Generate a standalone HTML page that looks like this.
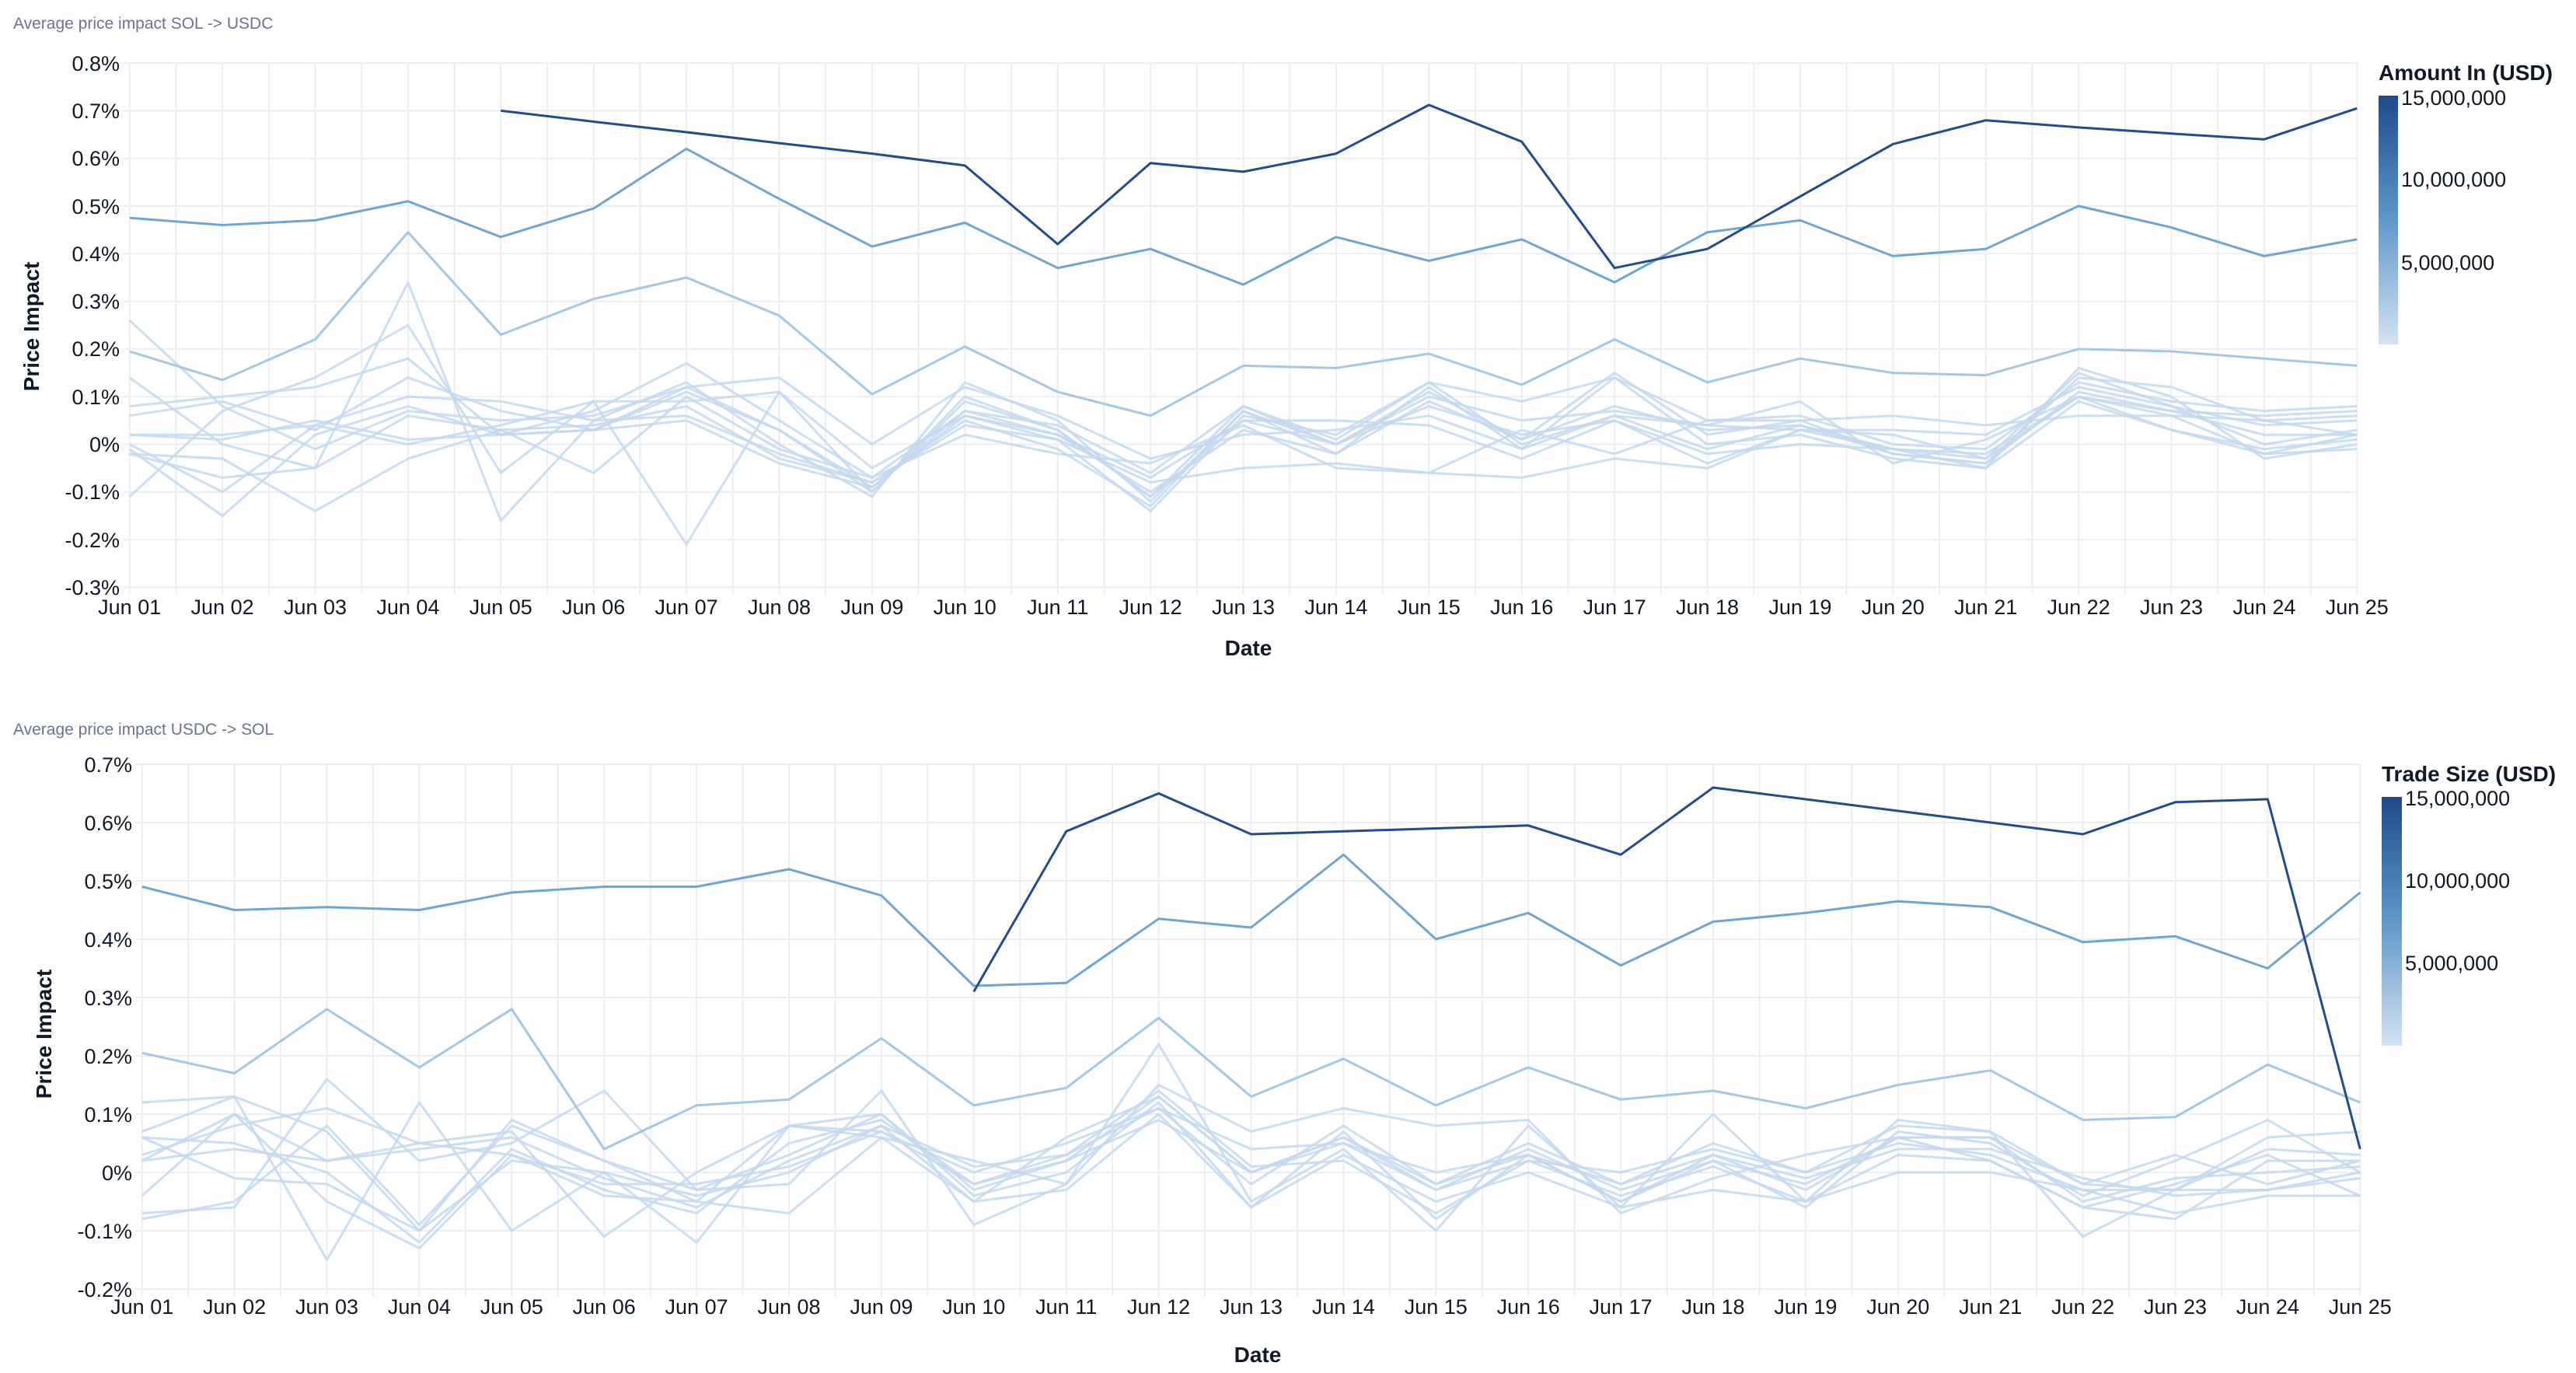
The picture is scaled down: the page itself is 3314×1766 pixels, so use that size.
<!DOCTYPE html>
<html><head><meta charset="utf-8"><style>
html,body{margin:0;padding:0;background:#fff;}
svg{display:block;font-family:"Liberation Sans",sans-serif;}
.t{fill:#6b7391;font-size:21px;}
.yl{fill:#111827;font-size:27px;text-anchor:end;}
.xl{fill:#111827;font-size:27px;text-anchor:middle;}
.ax{fill:#111827;font-size:28px;font-weight:bold;}
.lg{fill:#111827;font-size:27px;}
</style></head><body>
<svg id="s" width="3314" height="1766" viewBox="0 0 3314 1766" xmlns="http://www.w3.org/2000/svg">
<defs><linearGradient id="g" x1="0" y1="0" x2="0" y2="1">
<stop offset="0" stop-color="#204a8c"/><stop offset="0.45" stop-color="#5690c4"/><stop offset="1" stop-color="#d3e2f2"/></linearGradient></defs>
<g id="grid"></g>
<g id="lines"></g>
<text class="t" x="17" y="37">Average price impact SOL -&gt; USDC</text>
<text class="t" x="17" y="945">Average price impact USDC -&gt; SOL</text>

<g class="yl">
<text x="154" y="91">0.8%</text><text x="154" y="152">0.7%</text><text x="154" y="213">0.6%</text><text x="154" y="275">0.5%</text><text x="154" y="336">0.4%</text><text x="154" y="397">0.3%</text><text x="154" y="458">0.2%</text><text x="154" y="520">0.1%</text><text x="154" y="581">0%</text><text x="154" y="642">-0.1%</text><text x="154" y="704">-0.2%</text><text x="154" y="765">-0.3%</text>
<text x="170" y="993">0.7%</text><text x="170" y="1068">0.6%</text><text x="170" y="1143">0.5%</text><text x="170" y="1218">0.4%</text><text x="170" y="1293">0.3%</text><text x="170" y="1368">0.2%</text><text x="170" y="1443">0.1%</text><text x="170" y="1518">0%</text><text x="170" y="1593">-0.1%</text><text x="170" y="1668">-0.2%</text>
</g>
<g class="xl">
<text x="166.7" y="790">Jun 01</text><text x="286.1" y="790">Jun 02</text><text x="405.5" y="790">Jun 03</text><text x="524.9" y="790">Jun 04</text><text x="644.3" y="790">Jun 05</text><text x="763.7" y="790">Jun 06</text><text x="883.1" y="790">Jun 07</text><text x="1002.5" y="790">Jun 08</text><text x="1121.9" y="790">Jun 09</text><text x="1241.3" y="790">Jun 10</text><text x="1360.7" y="790">Jun 11</text><text x="1480.1" y="790">Jun 12</text><text x="1599.5" y="790">Jun 13</text><text x="1718.9" y="790">Jun 14</text><text x="1838.3" y="790">Jun 15</text><text x="1957.7" y="790">Jun 16</text><text x="2077.1" y="790">Jun 17</text><text x="2196.5" y="790">Jun 18</text><text x="2315.9" y="790">Jun 19</text><text x="2435.3" y="790">Jun 20</text><text x="2554.7" y="790">Jun 21</text><text x="2674.1" y="790">Jun 22</text><text x="2793.5" y="790">Jun 23</text><text x="2912.9" y="790">Jun 24</text><text x="3032.3" y="790">Jun 25</text>
<text x="182.7" y="1690">Jun 01</text><text x="301.6" y="1690">Jun 02</text><text x="420.5" y="1690">Jun 03</text><text x="539.4" y="1690">Jun 04</text><text x="658.3" y="1690">Jun 05</text><text x="777.2" y="1690">Jun 06</text><text x="896.1" y="1690">Jun 07</text><text x="1015" y="1690">Jun 08</text><text x="1133.9" y="1690">Jun 09</text><text x="1252.8" y="1690">Jun 10</text><text x="1371.7" y="1690">Jun 11</text><text x="1490.6" y="1690">Jun 12</text><text x="1609.5" y="1690">Jun 13</text><text x="1728.4" y="1690">Jun 14</text><text x="1847.3" y="1690">Jun 15</text><text x="1966.2" y="1690">Jun 16</text><text x="2085.1" y="1690">Jun 17</text><text x="2204" y="1690">Jun 18</text><text x="2322.9" y="1690">Jun 19</text><text x="2441.8" y="1690">Jun 20</text><text x="2560.7" y="1690">Jun 21</text><text x="2679.6" y="1690">Jun 22</text><text x="2798.5" y="1690">Jun 23</text><text x="2917.4" y="1690">Jun 24</text><text x="3036.3" y="1690">Jun 25</text>
</g>
<text class="ax" x="1606" y="843" text-anchor="middle">Date</text>
<text class="ax" x="1618" y="1752" text-anchor="middle">Date</text>
<text class="ax" transform="translate(50,420) rotate(-90)" text-anchor="middle">Price Impact</text>
<text class="ax" transform="translate(66,1330) rotate(-90)" text-anchor="middle">Price Impact</text>

<rect x="3060" y="123" width="25" height="320" fill="url(#g)"/>
<text class="ax" x="3060" y="103">Amount In (USD)</text>
<text class="lg" x="3089" y="135">15,000,000</text>
<text class="lg" x="3089" y="240">10,000,000</text>
<text class="lg" x="3089" y="347">5,000,000</text>

<rect x="3064" y="1025" width="26" height="320" fill="url(#g)"/>
<text class="ax" x="3064" y="1005">Trade Size (USD)</text>
<text class="lg" x="3094" y="1036">15,000,000</text>
<text class="lg" x="3094" y="1142">10,000,000</text>
<text class="lg" x="3094" y="1248">5,000,000</text>
</svg>
<script>
(function(){
var NS="http://www.w3.org/2000/svg";
var grid=document.getElementById('grid'),lines=document.getElementById('lines');
function el(p,n,a){var e=document.createElementNS(NS,n);for(var k in a)e.setAttribute(k,a[k]);p.appendChild(e);return e;}
function chart(x0,dx,y0,sc,vmax,vmin,data){
  var xe=x0+24*dx,yt=y0-sc*vmax,yb=y0-sc*vmin;
  for(var v=vmin;v<=vmax+1e-6;v+=0.1){var y=y0-sc*v;el(grid,'line',{x1:x0-8,x2:xe,y1:y,y2:y,stroke:'#eceef4','stroke-width':2});}
  for(var i=0;i<=48;i++){var x=x0+i*dx/2;el(grid,'line',{x1:x,x2:x,y1:yt,y2:yb+10,stroke:'#eceef4','stroke-width':2});}
  data.forEach(function(s){var pts=[];s.v.forEach(function(v,i){if(v!==null)pts.push((x0+i*dx).toFixed(1)+','+(y0-sc*v).toFixed(1));});
    el(lines,'polyline',{points:pts.join(' '),fill:'none',stroke:s.c,'stroke-width':s.w||3,'stroke-linejoin':'round','stroke-opacity':s.o||1});});
}
var N=null,L='#c3d8ee';
var topD=[
{c:L,o:.85,v:[.26,.08,-.01,.07,.05,.06,.12,.03,-.09,.06,.01,-.14,.06,.02,.13,0,.06,-.01,.04,-.01,-.03,.15,.08,0,.03]},
{c:L,o:.85,v:[.14,0,-.05,.34,-.16,.05,.13,0,-.11,.13,.05,-.12,.07,-.02,.12,-.01,.14,0,.02,-.03,-.05,.16,.1,-.03,0]},
{c:L,o:.85,v:[-.11,.07,.14,.25,-.06,.09,.09,.11,-.1,.1,.03,-.11,.08,0,.11,.01,.15,.02,.05,-.02,-.04,.14,.12,.05,.02]},
{c:L,o:.85,v:[.08,.1,.12,.18,.02,.07,.17,.05,-.07,.07,.04,-.06,.08,.01,.13,.09,.14,.05,.06,0,-.01,.13,.09,.07,.08]},
{c:L,o:.85,v:[.06,.09,.03,.14,.07,.03,.12,.14,0,.12,.06,-.03,.02,.03,.06,-.01,.06,.04,.03,.03,.02,.12,.08,.04,.05]},
{c:L,o:.85,v:[0,-.1,.04,.1,.09,.05,.06,-.02,-.08,.04,.01,-.08,-.05,-.04,-.06,-.07,-.03,-.05,.03,-.01,-.02,.1,.06,-.02,.02]},
{c:L,o:.85,v:[-.02,-.07,-.05,.06,.03,-.06,.1,-.01,-.07,.02,-.02,-.04,.04,-.05,-.06,.03,-.02,.05,.05,.06,.04,.06,.06,.05,.06]},
{c:L,o:.85,v:[.02,.02,.04,0,.04,.09,-.21,.11,-.05,.06,.02,-.07,.05,.05,.04,-.03,.05,-.02,0,-.01,-.05,.09,.03,-.01,.01]},
{c:L,o:.85,v:[-.01,-.15,.02,.08,.02,.03,.05,-.04,-.09,.07,.02,-.1,.03,-.02,.09,.01,.08,.03,.04,-.02,-.04,.11,.07,.02,.02]},
{c:L,o:.85,v:[-.02,-.03,-.14,-.03,.03,.04,.08,-.03,-.08,.05,-.01,-.13,.07,0,.08,.02,.05,-.04,.03,.02,-.03,.1,.03,-.02,-.01]},
{c:L,o:.85,v:[.02,.01,.05,.01,.02,.03,.11,.03,-.1,.09,.03,-.11,.05,0,.1,.05,.07,.04,.09,-.04,.01,.1,.07,.06,.07]},
{c:'#a4c7e4',v:[.195,.135,.22,.445,.23,.305,.35,.27,.105,.205,.11,.06,.165,.16,.19,.125,.22,.13,.18,.15,.145,.2,.195,.18,.165]},
{c:'#6ea6d3',v:[.475,.46,.47,.51,.435,.495,.62,.515,.415,.465,.37,.41,.335,.435,.385,.43,.34,.445,.47,.395,.41,.5,.455,.395,.43]},
{c:'#214c8e',v:[N,N,N,N,.70,.677,.655,.632,.61,.585,.42,.59,.572,.61,.712,.635,.37,.41,.52,.63,.68,.665,.652,.64,.705]}
];
var botD=[
{c:L,o:.85,v:[.07,.13,.07,-.1,.09,.02,-.05,.08,.1,-.03,.02,.13,0,.06,-.02,.03,-.05,.02,-.06,.07,.05,-.04,.02,.09,0]},
{c:L,o:.85,v:[-.07,-.06,.16,.02,.05,.14,-.03,-.02,.14,-.09,-.02,.22,-.05,.04,-.1,.08,-.06,.1,-.05,.09,.07,-.11,-.03,.04,.03]},
{c:L,o:.85,v:[.12,.13,-.15,.12,-.1,0,-.12,.08,.06,.02,-.02,.15,.07,.11,.08,.09,-.07,-.01,.03,.06,.02,-.06,-.08,.02,.02]},
{c:L,o:.85,v:[.03,.08,.11,.05,.07,-.11,0,.08,.07,0,.05,.11,.04,.05,-.03,.02,0,.04,0,.05,.03,-.03,-.03,.06,.07]},
{c:L,o:.85,v:[-.08,-.05,.08,-.09,.08,.02,-.03,.03,.1,-.04,0,.12,-.06,.07,-.08,.03,-.05,.03,-.03,.06,.06,-.05,-.01,0,.01]},
{c:L,o:.85,v:[.02,.04,.02,.04,.06,-.01,-.06,.02,.08,-.05,.06,.13,0,.06,-.03,.04,-.03,.02,-.02,.06,.06,-.02,.03,-.02,.02]},
{c:L,o:.85,v:[.06,.05,0,-.12,.04,-.03,-.07,.05,.09,-.02,.03,.14,.01,.02,-.07,.02,-.04,.01,-.05,.03,.02,-.06,-.02,.03,-.04]},
{c:L,o:.85,v:[-.04,.1,-.05,-.13,.03,-.04,-.05,-.07,.06,-.05,-.03,.1,-.06,.03,-.05,0,-.06,-.03,-.05,0,0,-.03,-.07,-.04,-.04]},
{c:L,o:.85,v:[.06,-.01,-.02,-.1,.02,0,-.04,0,.08,.01,.03,.11,-.02,.08,-.02,.05,-.02,.05,0,.08,.07,-.02,-.03,-.03,0]},
{c:L,o:.85,v:[.02,.1,.02,.05,.03,-.02,-.02,.01,.07,-.02,.02,.09,0,.05,0,.03,-.02,.03,-.01,.04,.04,-.01,-.04,-.03,-.01]},
{c:'#a4c7e4',v:[.205,.17,.28,.18,.28,.04,.115,.125,.23,.115,.145,.265,.13,.195,.115,.18,.125,.14,.11,.15,.175,.09,.095,.185,.12]},
{c:'#6ea6d3',v:[.49,.45,.455,.45,.48,.49,.49,.52,.475,.32,.325,.435,.42,.545,.40,.445,.355,.43,.445,.465,.455,.395,.405,.35,.48]},
{c:'#214c8e',v:[N,N,N,N,N,N,N,N,N,.31,.585,.65,.58,.585,.59,.595,.545,.66,.64,.62,.60,.58,.635,.64,.04]}
];
chart(166.7,119.4,571.5,613,0.8,-0.3,topD);
chart(182.7,118.9,1508,750,0.7,-0.2,botD);
})();
</script>
</body></html>
